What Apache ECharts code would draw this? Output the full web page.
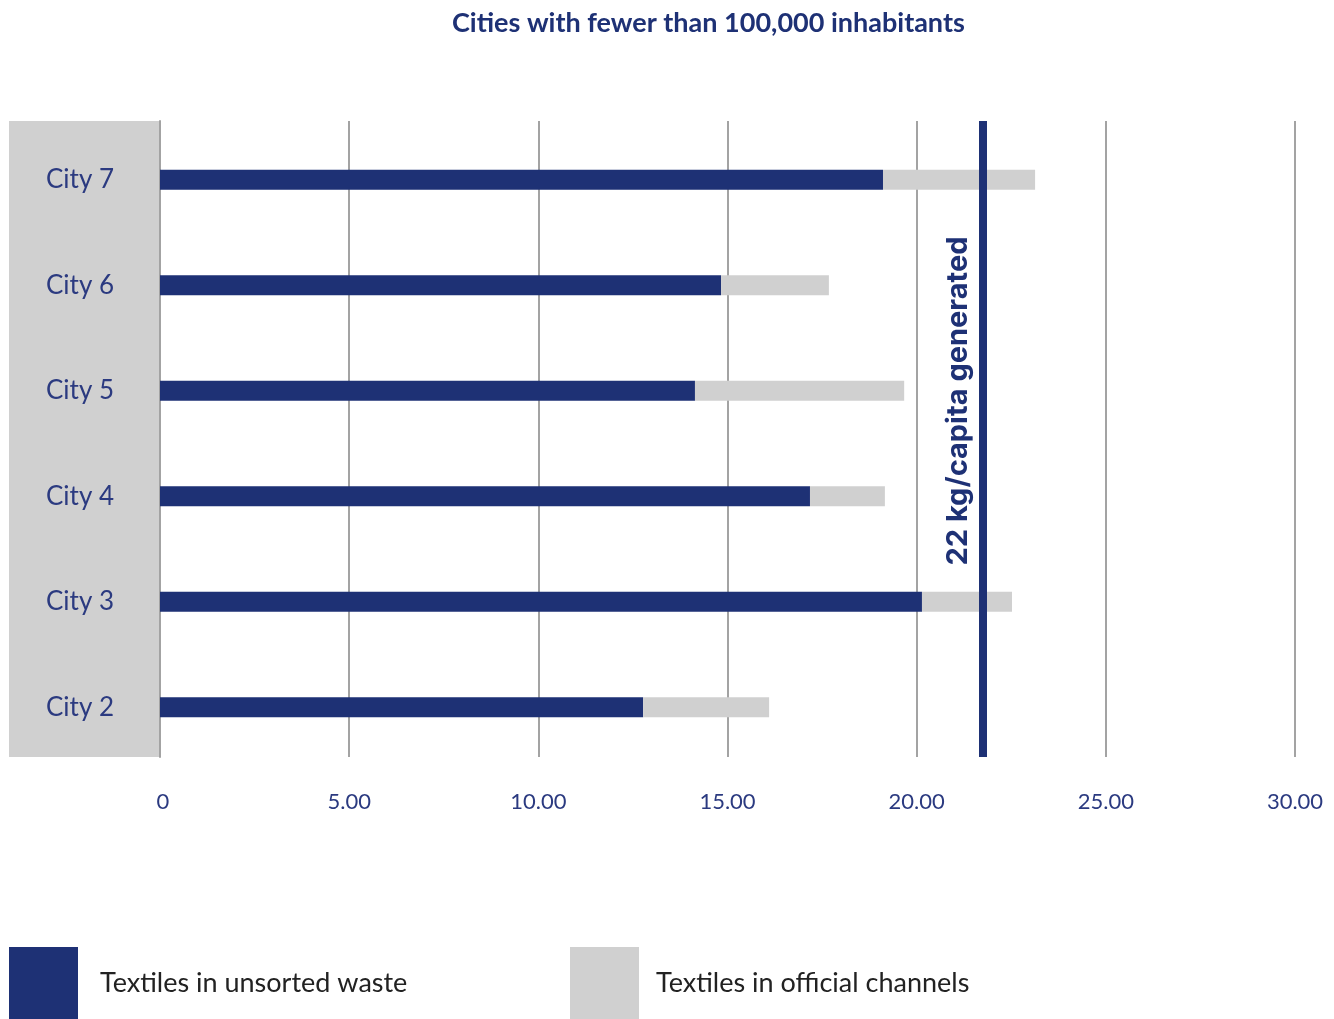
<!DOCTYPE html>
<html><head><meta charset="utf-8">
<script src="https://cdn.jsdelivr.net/npm/echarts@6/dist/echarts.min.js"></script>
<style>html,body{margin:0;padding:0;background:#fff}#c{width:1334px;height:1019px}</style>
</head><body><div id="c"></div>
<script>
const categories = ['City 2', 'City 3', 'City 4', 'City 5', 'City 6', 'City 7'];
const unsorted = [12.77, 20.14, 17.18, 14.14, 14.83, 19.11];
const official = [3.33, 2.38, 1.98, 5.53, 2.85, 4.02];
const xTicks = [0, 5, 10, 15, 20, 25, 30];
const generatedLine = 21.75;
const generatedLabel = '22 kg/capita generated';
const seriesNames = ['Textiles in unsorted waste', 'Textiles in official channels'];

const DARK = '#1e3175';
const GRAY = '#d0d0d0';
const FONT = 'Lato';

const chart = echarts.init(document.getElementById('c'), null, {renderer: 'canvas'});
chart.setOption({
  animation: false,
  backgroundColor: '#fff',
  textStyle: {fontFamily: FONT},
  title: {
    text: 'Cities with fewer than 100,000 inhabitants',
    left: 447, top: 5,
    textStyle: {fontFamily: FONT, fontWeight: 'bold', fontSize: 27, color: DARK}
  },
  graphic: [{
    type: 'rect', z: -10, silent: true,
    shape: {x: 9, y: 121, width: 151, height: 636},
    style: {fill: GRAY}
  }],
  legend: [{
    data: [seriesNames[0]], left: 9, top: 947, padding: 0,
    itemWidth: 69, itemHeight: 72, itemGap: 22, icon: 'rect',
    textStyle: {fontFamily: FONT, fontSize: 27, color: '#222', padding: [0, 0, 0, 17]}
  }, {
    data: [seriesNames[1]], left: 570, top: 947, padding: 0,
    itemWidth: 69, itemHeight: 72, icon: 'rect',
    textStyle: {fontFamily: FONT, fontSize: 27, color: '#222', padding: [0, 0, 0, 12]}
  }],
  grid: [
    {left: 160, right: 39, top: 127, bottom: 259, containLabel: false},
    {left: 160, right: 39, top: 121, bottom: 262, containLabel: false}
  ],
  xAxis: [{
    gridIndex: 0, type: 'value', min: 0, max: 30, interval: 5, show: false
  }, {
    gridIndex: 1, type: 'value', min: 0, max: 30, interval: 5,
    axisLine: {show: false}, axisTick: {show: false},
    splitLine: {show: true, lineStyle: {color: '#a3a3a3', width: 2}},
    axisLabel: {
      margin: 34, fontSize: 22, color: '#2b3a80', fontFamily: FONT,
      formatter: v => xTicks.includes(v) ? (v === 0 ? ' 0' : v.toFixed(2)) : ''
    }
  }],
  yAxis: [{
    gridIndex: 0, type: 'category', data: categories,
    axisLine: {show: false}, axisTick: {show: false},
    axisLabel: {margin: 80, align: 'center', fontSize: 26, color: '#2b3a80', fontFamily: FONT}
  }, {
    gridIndex: 1, type: 'category', data: categories,
    axisLine: {show: true, lineStyle: {color: '#a3a3a3', width: 2}},
    axisTick: {show: false}, axisLabel: {show: false}
  }],
  series: [{
    name: seriesNames[0], type: 'bar', stack: 'total', data: unsorted,
    xAxisIndex: 0, yAxisIndex: 0,
    barWidth: 20, itemStyle: {color: DARK}
  }, {
    name: seriesNames[1], type: 'bar', stack: 'total', data: official,
    xAxisIndex: 0, yAxisIndex: 0,
    barWidth: 20, itemStyle: {color: GRAY}
  }, {
    name: 'generated', type: 'line', data: [], xAxisIndex: 1, yAxisIndex: 1,
    markLine: {
      silent: true, symbol: 'none', z: 10,
      lineStyle: {color: DARK, width: 8, type: 'solid'},
      label: {
        show: true, position: 'insideMiddleTop', formatter: generatedLabel,
        fontFamily: 'Inter', fontWeight: 'bold', fontSize: 29, color: DARK,
        distance: 10, padding: [0, 0, 0, 76]
      },
      data: [{xAxis: generatedLine}]
    }
  }]
});
</script></body></html>
